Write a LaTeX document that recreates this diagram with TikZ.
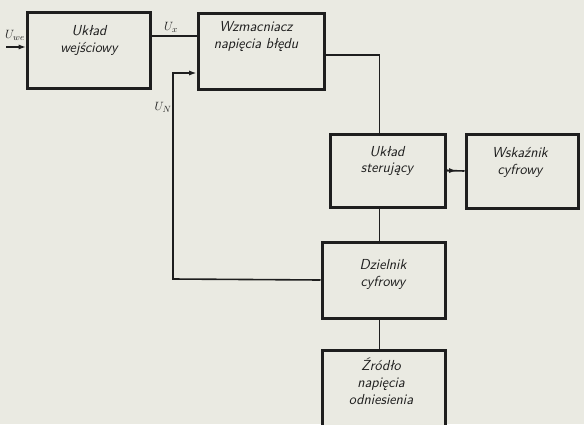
\documentclass[tikz,border=0pt]{standalone}
\usepackage{amsmath}
\usetikzlibrary{arrows.meta,positioning}
\definecolor{papier}{RGB}{234,234,226}
\definecolor{tusz}{RGB}{30,30,30}

\tikzset{
  blok/.style={draw=tusz,line width=3pt,fill=papier,minimum width=#1,minimum height=76pt,inner sep=0pt},
  blok/.default=123pt,
  tekst/.style={align=center,font=\fontsize{14.5}{17}\selectfont\sffamily\itshape,text=tusz},
  napis/.style={font=\fontsize{13}{15}\selectfont,text=tusz,inner sep=1pt},
  linia/.style={draw=tusz,line width=1.6pt},
  strz/.style={-{Latex[length=2.6mm,width=1.8mm]}}
}

\begin{document}
\begin{tikzpicture}[x=1pt,y=-1pt]
      \fill[papier] (0,0) rectangle (584,424);
      \useasboundingbox (0,0) rectangle (584,424);
      % bloki
      \node[blok] (wej) at (89,50) {};
      \node[tekst] (wej-t) at (89,40) {Układ\\wejściowy};
      \node[blok=126pt] (wzm) at (261,51) {};
      \node[tekst] (wzm-t) at (256,37) {Wzmacniacz\\napięcia błędu};
      \node[blok=115pt,minimum height=73pt] (ster) at (387.5,170.5) {};
      \node[tekst] (ster-t) at (387,161) {Układ\\sterujący};
      \node[blok=112pt,minimum height=74pt] (wsk) at (522,171) {};
      \node[tekst] (wsk-t) at (520,162) {Wskaźnik\\cyfrowy};
      \node[blok] (dziel) at (383.5,280) {};
      \node[tekst] (dziel-t) at (383,274) {Dzielnik\\cyfrowy};
      \node[blok] (zrodlo) at (383.5,388) {};
      \node[tekst] (zrodlo-t) at (381,381) {Źródło\\napięcia\\odniesienia};
      % punkty pomocnicze
      \coordinate (we) at (6,47);
      \coordinate (fb) at (173,279);
      % polaczenia
      \draw[linia,strz] (we) -- (wej.west |- we);
      \draw[linia] ([yshift=14pt]wej.east) -- ([yshift=14pt]wej.east -| wzm.west);
      \draw[linia] ([yshift=-4pt]wzm.east) -| ([xshift=-8pt]ster.north);
      \draw[linia] ([xshift=-8pt]ster.south) -- ([xshift=-8pt]ster.south |- dziel.north);
      \draw[linia] ([xshift=-4pt]dziel.south) -- ([xshift=-4pt]dziel.south |- zrodlo.north);
      \draw[linia] (ster.east) -- (wsk.west);
      \draw[linia,strz,shorten >=8pt] (ster.east) -- (wsk.west);
      \draw[linia,strz] (dziel.west) -- (fb) |- ([yshift=-22pt]wzm.west);
      % napiecia
      \node[napis] (uwe) at (15,35) {$U_{we}$};
      \node[napis] (ux) at (171,27) {$U_x$};
      \node[napis] (un) at (163,107) {$U_N$};
    \end{tikzpicture}
\end{document}
